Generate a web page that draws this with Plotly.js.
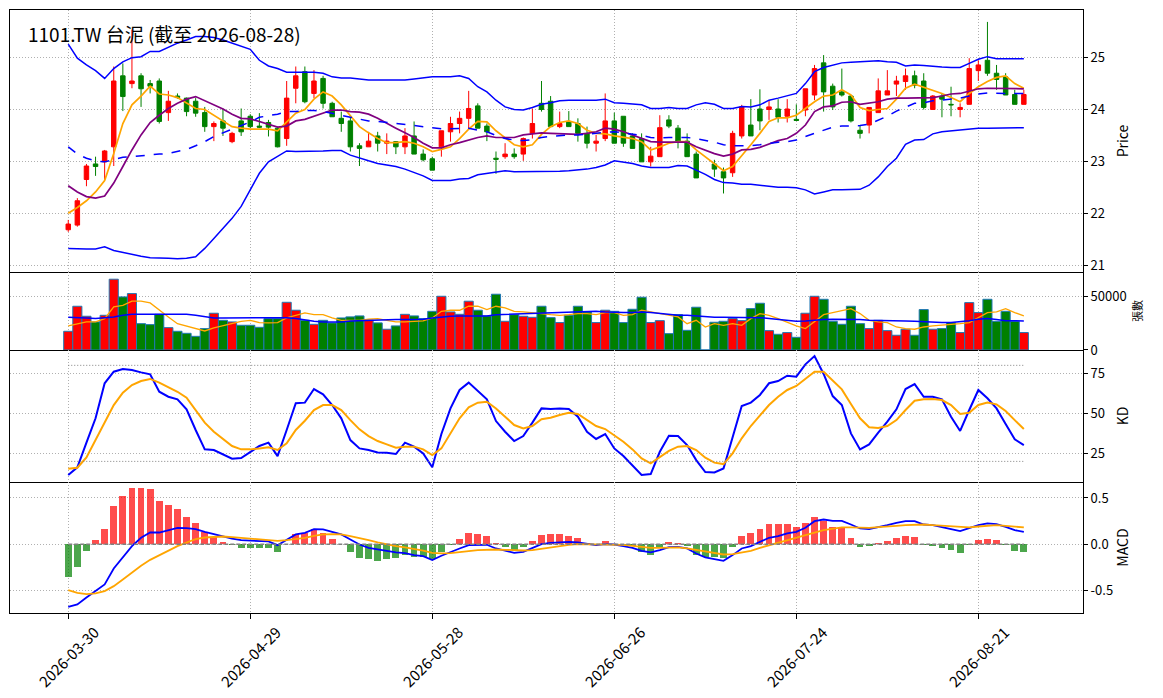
<!DOCTYPE html>
<html>
<head>
<meta charset="utf-8">
<script src="https://cdn.plot.ly/plotly-3.0.1.min.js"></script>
<style>
  body { margin: 0; background: #fff; }
  #chart { width: 1163px; height: 698px; }
</style>
</head>
<body>
<div id="chart"></div>
<script>
// tick labels (trading day index -> date)
var tickIdx = [0, 20, 40, 60, 80, 100];
var tickDays = ["2026-03-30", "2026-04-29", "2026-05-28", "2026-06-26", "2026-07-24", "2026-08-21"];

var priceTicks = [21, 22, 23, 24, 25];
var volTicks = [0, 50000];
var volTickText = ["0", "50000"];
var kdTicks = [25, 50, 75];
var macdTicks = [-0.5, 0, 0.5];
var macdTickText = ["-0.5", "0.0", "0.5"];
var kdLevels = [20, 80];

// OHLC, read off the candles (index 70 has no candle)
var opens = [
  21.68, 21.77, 22.65, 22.95, 22.99, 23.28, 24.65, 24.50, 24.65, 24.50,
  24.55, 23.94, 24.26, 24.22, 24.16, 23.94, 23.67, 23.78, 23.38, 23.78,
  23.87, 23.68, 23.75, 23.64, 23.44, 24.41, 24.73, 24.31, 24.60, 24.12,
  23.83, 23.78, 23.30, 23.28, 23.49, 23.35, 23.38, 23.28, 23.49, 23.14,
  23.05, 23.28, 23.57, 23.73, 23.83, 24.07, 23.68, 23.06, 23.09, 23.14,
  23.14, 23.54, 24.12, 24.16, 23.67, 23.77, 23.73, 23.54, 23.35, 23.44,
  23.78, 23.87, 23.49, 23.44, 22.99, 23.09, 23.80, 23.64, 23.39, 23.14,
  null, 22.95, 22.80, 22.78, 23.49, 23.70, 24.01, 24.00, 24.01, 23.87,
  23.81, 23.99, 24.28, 24.90, 24.45, 24.34, 24.26, 23.60, 23.70, 23.94,
  24.28, 24.49, 24.54, 24.65, 24.55, 24.00, 24.26, 24.10, 24.00, 24.10,
  24.75, 24.95, 24.70, 24.63, 24.29, 24.10
];
var highs = [
  21.87, 22.29, 22.95, 23.09, 23.22, 24.83, 24.89, 25.54, 24.70, 24.57,
  24.60, 24.36, 24.31, 24.23, 24.22, 24.05, 23.77, 24.02, 23.57, 24.02,
  23.91, 23.93, 23.80, 23.67, 24.55, 24.83, 24.83, 24.76, 24.65, 24.15,
  23.96, 23.86, 23.35, 23.57, 23.57, 23.54, 23.39, 23.64, 23.77, 23.23,
  23.09, 23.59, 23.86, 23.96, 24.36, 24.12, 23.73, 23.19, 23.35, 23.25,
  23.46, 24.02, 24.55, 24.26, 23.96, 23.97, 23.83, 23.67, 23.51, 24.31,
  23.94, 23.87, 23.54, 23.54, 23.28, 23.89, 23.89, 23.70, 23.54, 23.19,
  null, 23.03, 22.88, 23.59, 24.09, 24.20, 24.39, 24.18, 24.20, 24.20,
  24.10, 24.40, 24.86, 25.05, 24.50, 24.79, 24.28, 23.70, 24.04, 24.60,
  24.76, 24.65, 24.79, 24.75, 24.70, 24.28, 24.31, 24.44, 24.12, 24.99,
  24.95, 25.69, 24.86, 24.70, 24.38, 24.38
];
var lows = [
  21.64, 21.74, 22.52, 22.72, 22.64, 22.91, 23.97, 24.41, 24.05, 24.31,
  23.73, 23.78, 24.21, 23.87, 23.86, 23.57, 23.39, 23.49, 23.35, 23.49,
  23.64, 23.64, 23.48, 23.27, 23.30, 24.12, 24.12, 24.22, 24.02, 23.86,
  23.57, 23.19, 22.91, 23.28, 23.19, 23.14, 23.14, 23.14, 23.14, 23.00,
  22.83, 23.09, 23.38, 23.54, 23.64, 23.64, 23.39, 22.76, 23.05, 23.05,
  23.01, 23.44, 23.96, 23.67, 23.64, 23.67, 23.38, 23.25, 23.19, 23.39,
  23.35, 23.28, 23.25, 22.99, 22.90, 23.09, 23.64, 23.25, 23.09, 22.68,
  null, 22.70, 22.38, 22.70, 23.44, 23.49, 23.60, 23.80, 23.75, 23.75,
  23.78, 23.87, 24.18, 23.96, 23.99, 24.25, 23.75, 23.44, 23.54, 23.94,
  24.28, 24.26, 24.38, 24.41, 24.00, 24.00, 23.85, 23.87, 23.85, 24.10,
  24.55, 24.65, 24.38, 24.28, 24.10, 24.10
];
var closes = [
  21.79, 22.24, 22.91, 22.90, 23.20, 24.55, 24.25, 24.55, 24.40, 24.45,
  23.77, 24.16, 24.23, 23.96, 23.93, 23.67, 23.73, 23.64, 23.54, 23.57,
  23.67, 23.66, 23.66, 23.28, 24.22, 24.65, 24.15, 24.55, 24.12, 23.86,
  23.73, 23.28, 23.25, 23.39, 23.35, 23.39, 23.28, 23.49, 23.14, 23.03,
  22.83, 23.59, 23.73, 23.83, 24.02, 23.64, 23.57, 23.04, 23.14, 23.09,
  23.44, 23.73, 24.00, 23.67, 23.73, 23.67, 23.54, 23.35, 23.39, 23.78,
  23.35, 23.35, 23.25, 22.99, 23.10, 23.65, 23.68, 23.39, 23.09, 22.68,
  null, 22.85, 22.68, 23.54, 24.05, 23.49, 23.78, 24.05, 23.85, 24.01,
  23.79, 24.40, 24.79, 24.34, 24.05, 24.28, 23.78, 23.54, 24.04, 24.36,
  24.36, 24.55, 24.65, 24.47, 24.04, 24.26, 24.20, 24.09, 24.04, 24.79,
  24.86, 24.70, 24.58, 24.28, 24.10, 24.29
];

// price pane lines
var ma5 = [
  22.00, 22.11, 22.24, 22.41, 22.63, 23.15, 23.73, 24.09, 24.26, 24.45,
  24.30, 24.28, 24.23, 24.13, 24.02, 24.00, 23.89, 23.78, 23.67, 23.64,
  23.62, 23.62, 23.62, 23.59, 23.77, 23.93, 24.00, 24.20, 24.34, 24.26,
  24.09, 23.87, 23.67, 23.55, 23.44, 23.36, 23.36, 23.38, 23.35, 23.28,
  23.19, 23.23, 23.28, 23.44, 23.62, 23.77, 23.76, 23.59, 23.46, 23.32,
  23.28, 23.32, 23.52, 23.67, 23.75, 23.78, 23.73, 23.60, 23.54, 23.53,
  23.49, 23.46, 23.44, 23.38, 23.22, 23.28, 23.35, 23.38, 23.38, 23.22,
  23.09, 22.95, 22.82, 22.90, 23.10, 23.32, 23.54, 23.77, 23.84, 23.84,
  23.89, 24.02, 24.15, 24.26, 24.28, 24.38, 24.28, 24.04, 23.98, 24.00,
  24.02, 24.20, 24.41, 24.49, 24.43, 24.38, 24.31, 24.23, 24.15, 24.31,
  24.44, 24.54, 24.62, 24.65, 24.50, 24.41
];
var ma10 = [
  22.53, 22.41, 22.32, 22.29, 22.33, 22.58, 22.90, 23.22, 23.51, 23.75,
  23.89, 24.02, 24.12, 24.20, 24.25, 24.17, 24.10, 24.01, 23.91, 23.83,
  23.82, 23.77, 23.71, 23.66, 23.68, 23.78, 23.81, 23.87, 23.94, 23.99,
  23.99, 23.96, 23.95, 23.91, 23.83, 23.73, 23.64, 23.55, 23.46, 23.35,
  23.26, 23.26, 23.32, 23.36, 23.41, 23.46, 23.49, 23.46, 23.46, 23.46,
  23.51, 23.53, 23.55, 23.54, 23.53, 23.52, 23.52, 23.54, 23.57, 23.64,
  23.62, 23.57, 23.51, 23.44, 23.38, 23.37, 23.37, 23.38, 23.37, 23.28,
  23.21, 23.15, 23.10, 23.14, 23.22, 23.23, 23.27, 23.34, 23.40, 23.44,
  23.54, 23.70, 23.96, 24.05, 24.07, 24.14, 24.15, 24.10, 24.12, 24.15,
  24.20, 24.22, 24.22, 24.22, 24.22, 24.23, 24.26, 24.30, 24.31, 24.36,
  24.40, 24.41, 24.41, 24.40, 24.40, 24.40
];
var bbUpper = [
  25.26, 24.99, 24.86, 24.75, 24.60, 24.79, 24.92, 25.00, 25.02, 25.12,
  25.12, 25.20, 25.28, 25.34, 25.41, 25.41, 25.39, 25.34, 25.28, 25.23,
  25.16, 24.95, 24.84, 24.79, 24.72, 24.72, 24.72, 24.72, 24.70, 24.63,
  24.61, 24.61, 24.59, 24.57, 24.57, 24.57, 24.57, 24.57, 24.59, 24.61,
  24.63, 24.63, 24.63, 24.65, 24.60, 24.44, 24.34, 24.18, 24.05, 24.00,
  23.99, 24.04, 24.10, 24.13, 24.17, 24.18, 24.18, 24.18, 24.18, 24.20,
  24.13, 24.12, 24.11, 24.09, 24.02, 24.02, 24.04, 24.02, 24.02, 24.09,
  24.13, 24.10, 24.02, 24.02, 24.06, 24.05, 24.09, 24.18, 24.22, 24.26,
  24.31, 24.50, 24.73, 24.81, 24.86, 24.90, 24.91, 24.92, 24.94, 24.94,
  24.92, 24.91, 24.84, 24.86, 24.85, 24.83, 24.82, 24.81, 24.81, 24.89,
  24.97, 25.02, 24.98, 24.98, 24.98, 24.98
];
var bbMid = [
  23.28, 23.14, 23.06, 23.01, 22.99, 23.04, 23.08, 23.09, 23.11, 23.12,
  23.14, 23.15, 23.19, 23.23, 23.30, 23.38, 23.48, 23.55, 23.63, 23.69,
  23.76, 23.85, 23.88, 23.91, 23.96, 23.96, 23.98, 23.98, 23.96, 23.93,
  23.89, 23.85, 23.81, 23.78, 23.77, 23.75, 23.72, 23.70, 23.68, 23.67,
  23.64, 23.63, 23.63, 23.64, 23.64, 23.60, 23.57, 23.50, 23.44, 23.41,
  23.40, 23.42, 23.46, 23.48, 23.50, 23.51, 23.51, 23.52, 23.54, 23.56,
  23.57, 23.55, 23.53, 23.50, 23.46, 23.45, 23.46, 23.46, 23.46, 23.44,
  23.41, 23.37, 23.32, 23.30, 23.30, 23.30, 23.32, 23.35, 23.37, 23.38,
  23.41, 23.48, 23.54, 23.60, 23.66, 23.68, 23.69, 23.69, 23.72, 23.80,
  23.87, 23.97, 24.05, 24.12, 24.13, 24.17, 24.18, 24.20, 24.22, 24.26,
  24.30, 24.32, 24.31, 24.31, 24.31, 24.31
];
var bbLower = [
  21.32, 21.31, 21.31, 21.31, 21.35, 21.28, 21.24, 21.21, 21.17, 21.14,
  21.14, 21.13, 21.12, 21.13, 21.16, 21.32, 21.51, 21.71, 21.90, 22.13,
  22.45, 22.77, 22.99, 23.09, 23.20, 23.19, 23.19, 23.19, 23.20, 23.21,
  23.21, 23.12, 23.06, 23.01, 22.96, 22.93, 22.90, 22.85, 22.78, 22.72,
  22.63, 22.63, 22.63, 22.66, 22.67, 22.74, 22.77, 22.80, 22.82, 22.80,
  22.80, 22.80, 22.80, 22.80, 22.81, 22.82, 22.83, 22.85, 22.88, 22.93,
  23.01, 22.99, 22.96, 22.91, 22.88, 22.88, 22.88, 22.92, 22.91, 22.83,
  22.75, 22.65, 22.59, 22.58, 22.56, 22.56, 22.54, 22.51, 22.50, 22.50,
  22.49, 22.45, 22.37, 22.41, 22.45, 22.45, 22.45, 22.46, 22.54, 22.70,
  22.90, 23.06, 23.33, 23.41, 23.42, 23.53, 23.57, 23.59, 23.60, 23.62,
  23.64, 23.64, 23.64, 23.64, 23.64, 23.65
];

// volume (張數) and its averages
var volume = [
  17400, 40700, 31400, 26100, 32300, 65900, 49400, 52500, 24500, 23600,
  33200, 20800, 17400, 15500, 12700, 19900, 34200, 27600, 26100, 23000,
  23000, 21100, 29200, 29200, 44400, 37000, 27600, 23900, 27600, 25200,
  29800, 30800, 31700, 27600, 25200, 19300, 22400, 33200, 31700, 29200,
  36000, 50000, 35400, 33200, 45400, 37000, 31700, 51900, 26700, 32900,
  31400, 30400, 40700, 30100, 25500, 32300, 40700, 35400, 25500, 37000,
  36000, 25500, 37900, 49100, 25500, 27300, 15200, 32900, 18300, 39800,
  0, 25800, 26700, 29200, 27300, 38500, 43500, 18000, 14600, 16200,
  11800, 34200, 50000, 47200, 26700, 23900, 40700, 24500, 19900, 27600,
  18000, 13700, 19300, 13700, 37600, 19300, 19900, 25500, 16200, 44100,
  34800, 47200, 26700, 36000, 26700, 16200
];
var volMa5 = [
  22400, 24500, 26100, 26100, 29200, 40100, 41600, 45400, 45400, 43800,
  37000, 30800, 24500, 22400, 19900, 17700, 20500, 22400, 24500, 26700,
  27600, 25500, 25200, 25500, 29800, 32300, 34500, 32900, 32900, 29800,
  27600, 27600, 27600, 28600, 29200, 27600, 26100, 26100, 26700, 27000,
  29800, 36000, 37000, 37000, 40700, 40700, 37600, 40700, 39100, 36000,
  35400, 34800, 33900, 32900, 32300, 32900, 33900, 33900, 32900, 34800,
  34800, 32300, 32900, 37000, 35400, 33900, 32300, 30800, 24500, 27600,
  21400, 24500, 23000, 24500, 23000, 29200, 33900, 32300, 29200, 25500,
  22400, 19900, 26100, 32900, 34800, 37000, 38500, 33900, 27600, 26100,
  25500, 21400, 19900, 19300, 21400, 22400, 23000, 23600, 24500, 25500,
  29800, 34800, 35400, 38500, 34800, 31700
];
var volMa20 = [
  30400, 30400, 29800, 29200, 29800, 30800, 32300, 33200, 33200, 33200,
  33500, 33900, 33900, 33200, 32300, 30800, 29800, 29800, 29800, 30100,
  30400, 30100, 29800, 29800, 30100, 29200, 27600, 26700, 26100, 26100,
  26100, 27000, 27300, 27600, 28300, 28300, 28300, 28300, 28300, 28600,
  29800, 30800, 31400, 31700, 31700, 31700, 31700, 32900, 33200, 33200,
  33200, 33500, 33900, 34200, 34500, 35100, 35700, 36000, 36000, 35400,
  34800, 34800, 34800, 35400, 34800, 33900, 32900, 32300, 32300, 31700,
  30800, 30400, 30400, 30400, 30100, 30100, 30100, 29200, 28300, 27300,
  26700, 27000, 27300, 28300, 28600, 28600, 28600, 28300, 27600, 27600,
  27600, 27300, 27000, 26700, 26100, 26100, 25500, 25500, 26100, 27300,
  28600, 29200, 28300, 27300, 27300, 27000
];

// KD
var kLine = [
  11.5, 16.3, 31.7, 46.9, 68.8, 76.0, 77.7, 77.1, 75.6, 74.4,
  63.5, 60.4, 58.8, 52.5, 39.6, 27.5, 27.1, 24.6, 21.7, 22.1,
  26.0, 29.6, 31.7, 23.3, 39.6, 56.3, 56.7, 65.2, 61.9, 55.2,
  46.9, 33.3, 28.1, 27.1, 25.6, 25.4, 24.6, 31.7, 29.2, 25.0,
  16.3, 37.1, 53.1, 64.6, 69.2, 64.2, 58.8, 45.2, 38.5, 32.7,
  35.8, 44.2, 53.1, 52.7, 53.1, 52.7, 47.9, 38.5, 34.0, 37.1,
  28.1, 23.3, 17.7, 11.5, 12.1, 26.0, 36.0, 35.8, 30.2, 20.8,
  13.3, 13.1, 15.6, 35.4, 54.6, 56.7, 61.5, 68.8, 70.2, 73.5,
  72.9, 80.6, 85.8, 74.6, 60.8, 55.2, 37.5, 27.5, 30.6, 37.9,
  44.8, 52.5, 65.2, 68.3, 60.4, 60.4, 58.8, 47.9, 39.0, 52.1,
  64.6, 59.4, 53.1, 43.3, 33.8, 30.2
];
var dLine = [
  15.4, 16.0, 22.5, 33.3, 44.8, 55.2, 62.9, 67.7, 70.2, 71.5,
  69.2, 66.3, 63.5, 59.8, 52.1, 44.2, 38.5, 33.8, 29.6, 27.5,
  27.5, 28.1, 28.8, 27.1, 31.3, 39.6, 45.4, 52.1, 55.2, 55.2,
  52.1, 45.8, 40.0, 35.8, 32.7, 30.6, 28.5, 29.2, 29.2, 27.5,
  24.0, 28.1, 37.5, 46.9, 53.8, 56.7, 57.3, 53.1, 47.9, 42.7,
  40.6, 42.1, 46.3, 47.3, 49.0, 50.4, 49.6, 45.8, 42.1, 40.2,
  36.5, 32.3, 27.5, 21.9, 18.8, 22.5, 26.5, 29.2, 29.6, 27.1,
  22.3, 19.2, 18.3, 25.0, 34.4, 42.1, 49.0, 55.2, 60.4, 64.6,
  67.1, 71.3, 76.0, 76.0, 70.8, 65.0, 55.8, 46.9, 41.3, 40.8,
  42.1, 45.8, 52.1, 57.9, 58.8, 59.0, 58.3, 55.2, 49.6, 50.4,
  55.2, 56.7, 55.6, 51.5, 45.8, 40.2
];

// MACD
var dif = [
  -0.679, -0.653, -0.578, -0.509, -0.437, -0.264, -0.148, -0.022, 0.069, 0.126,
  0.126, 0.152, 0.177, 0.173, 0.162, 0.134, 0.108, 0.087, 0.061, 0.043,
  0.040, 0.036, 0.029, -0.011, 0.043, 0.105, 0.123, 0.162, 0.159, 0.134,
  0.105, 0.051, -0.004, -0.040, -0.058, -0.076, -0.090, -0.097, -0.119, -0.130,
  -0.173, -0.126, -0.083, -0.047, -0.011, -0.007, -0.007, -0.047, -0.072, -0.094,
  -0.083, -0.040, 0.000, 0.014, 0.022, 0.025, 0.018, 0.007, -0.011, 0.000,
  -0.004, -0.022, -0.040, -0.072, -0.090, -0.065, -0.032, -0.029, -0.047, -0.101,
  -0.144, -0.162, -0.181, -0.119, -0.047, -0.022, 0.025, 0.069, 0.087, 0.116,
  0.134, 0.177, 0.249, 0.267, 0.253, 0.253, 0.213, 0.170, 0.162, 0.188,
  0.206, 0.231, 0.249, 0.249, 0.213, 0.206, 0.188, 0.162, 0.141, 0.170,
  0.206, 0.224, 0.217, 0.188, 0.152, 0.134
];
var dea = [
  -0.498, -0.527, -0.542, -0.534, -0.509, -0.455, -0.383, -0.307, -0.235, -0.170,
  -0.119, -0.072, -0.022, 0.018, 0.054, 0.072, 0.079, 0.083, 0.076, 0.069,
  0.061, 0.054, 0.047, 0.036, 0.043, 0.054, 0.069, 0.090, 0.105, 0.108,
  0.105, 0.087, 0.069, 0.043, 0.018, -0.004, -0.022, -0.036, -0.051, -0.069,
  -0.094, -0.101, -0.097, -0.090, -0.076, -0.065, -0.058, -0.058, -0.061, -0.069,
  -0.069, -0.065, -0.049, -0.032, -0.018, -0.007, 0.000, 0.000, 0.000, 0.000,
  0.000, -0.007, -0.018, -0.029, -0.040, -0.040, -0.036, -0.036, -0.047, -0.065,
  -0.083, -0.101, -0.112, -0.108, -0.090, -0.072, -0.040, -0.011, 0.018, 0.043,
  0.069, 0.097, 0.126, 0.152, 0.170, 0.181, 0.181, 0.177, 0.177, 0.184,
  0.188, 0.199, 0.206, 0.213, 0.213, 0.206, 0.199, 0.188, 0.181, 0.181,
  0.191, 0.202, 0.206, 0.199, 0.188, 0.181
];
var hist = [
  -0.354, -0.245, -0.072, 0.047, 0.166, 0.415, 0.523, 0.610, 0.610, 0.599,
  0.469, 0.426, 0.383, 0.296, 0.231, 0.134, 0.079, 0.025, -0.014, -0.047,
  -0.047, -0.047, -0.047, -0.090, 0.005, 0.108, 0.116, 0.159, 0.123, 0.058,
  0.000, -0.090, -0.155, -0.166, -0.181, -0.166, -0.155, -0.119, -0.134, -0.144,
  -0.166, -0.083, -0.004, 0.058, 0.123, 0.112, 0.090, 0.014, -0.029, -0.065,
  -0.029, 0.036, 0.101, 0.105, 0.105, 0.090, 0.069, 0.014, -0.011, 0.036,
  0.004, -0.011, -0.022, -0.090, -0.119, -0.029, 0.025, 0.014, -0.018, -0.120,
  -0.137, -0.137, -0.148, -0.029, 0.090, 0.116, 0.159, 0.213, 0.213, 0.220,
  0.188, 0.231, 0.296, 0.249, 0.188, 0.170, 0.069, -0.029, -0.018, 0.014,
  0.036, 0.069, 0.090, 0.079, -0.004, -0.018, -0.040, -0.061, -0.094, -0.004,
  0.047, 0.058, 0.047, -0.004, -0.072, -0.083
];

var idx = closes.map(function(c, i) { return i; });
var lastIdx = idx[idx.length - 1];

var volColors = closes.map(function(c, i) {
  return (c !== null && c >= opens[i]) ? 'red' : 'green';
});
var histColors = hist.map(function(h) {
  return h >= 0 ? 'rgba(255,0,0,0.7)' : 'rgba(0,128,0,0.7)';
});

function line(y, color, width, xa, ya, dash) {
  return {
    x: idx, y: y, type: 'scatter', mode: 'lines',
    line: {color: color, width: width, dash: dash || 'solid'},
    xaxis: xa, yaxis: ya, hoverinfo: 'skip'
  };
}

var data = [
  {
    x: idx, open: opens, high: highs, low: lows, close: closes,
    type: 'candlestick', xaxis: 'x', yaxis: 'y',
    increasing: {line: {color: 'red', width: 1}, fillcolor: 'red'},
    decreasing: {line: {color: 'green', width: 1}, fillcolor: 'green'},
    whiskerwidth: 0, hoverinfo: 'skip'
  },
  line(ma5, 'orange', 1.7, 'x', 'y'),
  line(ma10, 'purple', 1.7, 'x', 'y'),
  line(bbUpper, 'blue', 1.5, 'x', 'y'),
  line(bbMid, 'blue', 1.5, 'x', 'y', 'dash'),
  line(bbLower, 'blue', 1.5, 'x', 'y'),
  {
    x: idx, y: volume, type: 'bar', width: 1,
    marker: {color: volColors, line: {color: '#1f77b4', width: 1}},
    xaxis: 'x2', yaxis: 'y2', hoverinfo: 'skip'
  },
  line(volMa5, 'orange', 1.3, 'x2', 'y2'),
  line(volMa20, 'blue', 1.5, 'x2', 'y2'),
  line(kLine, 'blue', 2, 'x3', 'y3'),
  line(dLine, 'orange', 2, 'x3', 'y3'),
  {
    x: idx, y: hist, type: 'bar', width: 0.75,
    marker: {color: histColors},
    xaxis: 'x4', yaxis: 'y4', hoverinfo: 'skip'
  },
  line(dif, 'blue', 1.8, 'x4', 'y4'),
  line(dea, 'orange', 1.8, 'x4', 'y4')
];

var grid = {showgrid: true, gridcolor: '#b0b0b0', griddash: '1px,2px', gridwidth: 1};

function xAxis(anchor, bottom) {
  var ax = Object.assign({
    anchor: anchor, domain: [0, 1], range: [-6.4, 111.5],
    tickmode: 'array', tickvals: tickIdx,
    showticklabels: false, ticks: bottom ? 'outside' : '', ticklen: 5,
    tickcolor: 'black',
    showline: true, mirror: anchor === 'y', linecolor: 'black', linewidth: 1,
    zeroline: false, fixedrange: true
  }, grid);
  if (anchor !== 'y') ax.matches = 'x';
  return ax;
}

function yAxis(dom, rng, vals, title, tsize, text) {
  var ax = Object.assign({
    domain: dom, range: rng, side: 'right',
    tickmode: 'array', tickvals: vals,
    ticks: 'outside', ticklen: 4, tickcolor: 'black',
    showline: true, mirror: true, linecolor: 'black', linewidth: 1,
    zeroline: false, fixedrange: true,
    title: {text: title, font: {size: tsize}}
  }, grid);
  if (text) ax.ticktext = text;
  return ax;
}

// date labels centred under their ticks, turned 45 degrees
var dateLabels = tickIdx.map(function(v, i) {
  return {
    text: tickDays[i], xref: 'x4', yref: 'paper', x: v, y: -0.01,
    xanchor: 'center', yanchor: 'top', textangle: -45, showarrow: false,
    font: {size: 15, color: 'black'}
  };
});

var layout = {
  width: 1163, height: 698,
  margin: {l: 10, r: 80, t: 10, b: 85},
  paper_bgcolor: 'white', plot_bgcolor: 'white',
  font: {family: '"Noto Sans CJK TC", "Noto Sans", sans-serif', size: 13, color: 'black'},
  showlegend: false,
  bargap: 0,
  xaxis: Object.assign(xAxis('y', false), {rangeslider: {visible: false}}),
  xaxis2: xAxis('y2', false),
  xaxis3: xAxis('y3', false),
  xaxis4: xAxis('y4', true),
  yaxis: yAxis([0.5655, 1], [20.865, 25.92], priceTicks, 'Price', 14),
  yaxis2: yAxis([0.4362, 0.5655], [0, 72600], volTicks, '張數', 11, volTickText),
  yaxis3: yAxis([0.2172, 0.4362], [7.1, 89.6], kdTicks, 'KD', 14),
  yaxis4: yAxis([0, 0.2172], [-0.746, 0.673], macdTicks, 'MACD', 14, macdTickText),
  shapes: kdLevels.map(function(v) {
    return {type: 'line', xref: 'x3', yref: 'y3', x0: idx[0], x1: lastIdx, y0: v, y1: v,
            line: {color: 'gray', width: 1, dash: '1px,2px'}};
  }).concat([{
    type: 'line', xref: 'x4', yref: 'y4', x0: idx[0], x1: lastIdx, y0: 0, y1: 0,
    line: {color: 'gray', width: 1.5, dash: '4px,2px'}
  }]),
  annotations: [{
    text: '1101.TW 台泥 (截至 2026-08-28)',
    xref: 'paper', yref: 'paper', x: 0.0149, y: 0.986,
    xanchor: 'left', yanchor: 'top', showarrow: false,
    font: {size: 19, color: 'black'}
  }].concat(dateLabels)
};

Plotly.newPlot('chart', data, layout, {displayModeBar: false, staticPlot: true});
</script>
</body>
</html>
